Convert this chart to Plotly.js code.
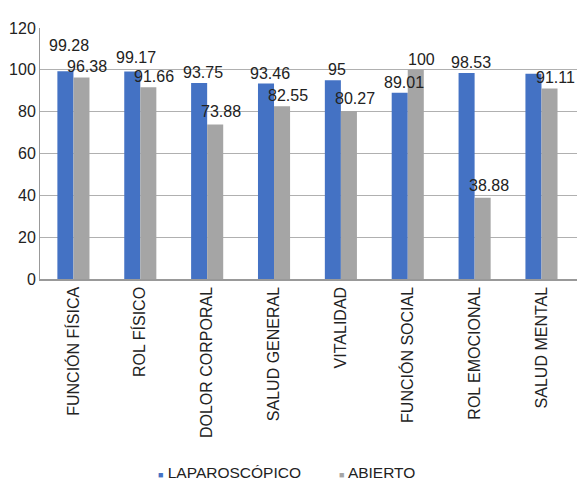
<!DOCTYPE html>
<html>
<head>
<meta charset="utf-8">
<script src="https://cdn.plot.ly/plotly-3.0.1.min.js"></script>
<style>html,body{margin:0;padding:0;background:#fff;}#chart{width:577px;height:481px;}</style>
</head>
<body>
<div id="chart"></div>
<script>
const categories = ["FUNCIÓN FÍSICA","ROL FÍSICO","DOLOR CORPORAL","SALUD GENERAL","VITALIDAD","FUNCIÓN SOCIAL","ROL EMOCIONAL","SALUD MENTAL"];
const laparoscopico = [99.28, 99.17, 93.75, 93.46, 95, 89.01, 98.53, 98.1];
const laparoscopicoLabels = ["99.28","99.17","93.75","93.46","95","89.01","98.53",""];
const abierto = [96.38, 91.66, 73.88, 82.55, 80.27, 100, 38.88, 91.11];
const abiertoLabels = ["96.38","91.66","73.88","82.55","80.27","100","38.88","91.11"];
const seriesNames = ["LAPAROSCÓPICO","ABIERTO"];
const yTicks = [0,20,40,60,80,100,120];

const lapLift = [15,4,0,0,0,0,0,0];
const abLift = [0,0,2,0,2,0,2,0];
const colors = ["#4472C4","#A5A5A5"];

const FONT = "Liberation Sans, Arial, sans-serif";
const traces = [
  {type:"bar", name:seriesNames[0], x:categories, y:laparoscopico, marker:{color:colors[0]}, hoverinfo:"none", showlegend:false},
  {type:"bar", name:seriesNames[1], x:categories, y:abierto, marker:{color:colors[1]}, hoverinfo:"none", showlegend:false}
];

const annotations = [];
categories.forEach((c,i)=>{
  if (laparoscopicoLabels[i]) annotations.push({x:i-0.12, y:laparoscopico[i], xref:"x", yref:"y", text:laparoscopicoLabels[i], showarrow:false, yanchor:"bottom", xanchor:"center", xshift:4, yshift:0+lapLift[i], font:{family:FONT,size:16,color:"#222"}});
  if (abiertoLabels[i]) annotations.push({x:i+0.12, y:abierto[i], xref:"x", yref:"y", text:abiertoLabels[i], showarrow:false, yanchor:"bottom", xanchor:"center", xshift:6, yshift:0+abLift[i], font:{family:FONT,size:16,color:"#222"}});
});
// legend (drawn as text with coloured squares)
const legendX = [157, 338];
seriesNames.forEach((n,k)=>{
  annotations.push({xref:"paper", yref:"paper", x:(legendX[k]-40)/537, y:(279-472)/251, xanchor:"left", yanchor:"middle", showarrow:false, borderpad:0,
    text:'<span style="color:'+colors[k]+';font-size:9px">■</span> '+n, font:{family:FONT,size:15.5,color:"#222"}});
});

const layout = {
  width:577, height:481,
  margin:{l:40, r:0, t:28, b:202},
  paper_bgcolor:"#fff", plot_bgcolor:"#fff",
  barmode:"group", bargap:0.52, bargroupgap:0,
  font:{family:FONT, size:14, color:"#222"},
  showlegend:false,
  xaxis:{type:"category", tickangle:-90, showline:true, linecolor:"#999", linewidth:1.5, ticks:"", showgrid:false, tickfont:{family:FONT,size:16,color:"#222"}, automargin:false},
  yaxis:{range:[0,120], tickvals:yTicks, ticktext:yTicks.map(String), showline:true, linecolor:"#999", linewidth:1, showgrid:true, gridcolor:"#b0b0b0", gridwidth:1.2, zeroline:false, ticks:"", tickfont:{family:FONT,size:16,color:"#222"}, automargin:false, ticklabelstandoff:0},
  annotations:annotations
};

Plotly.newPlot("chart", traces, layout, {staticPlot:true, displayModeBar:false});
</script>
</body>
</html>
